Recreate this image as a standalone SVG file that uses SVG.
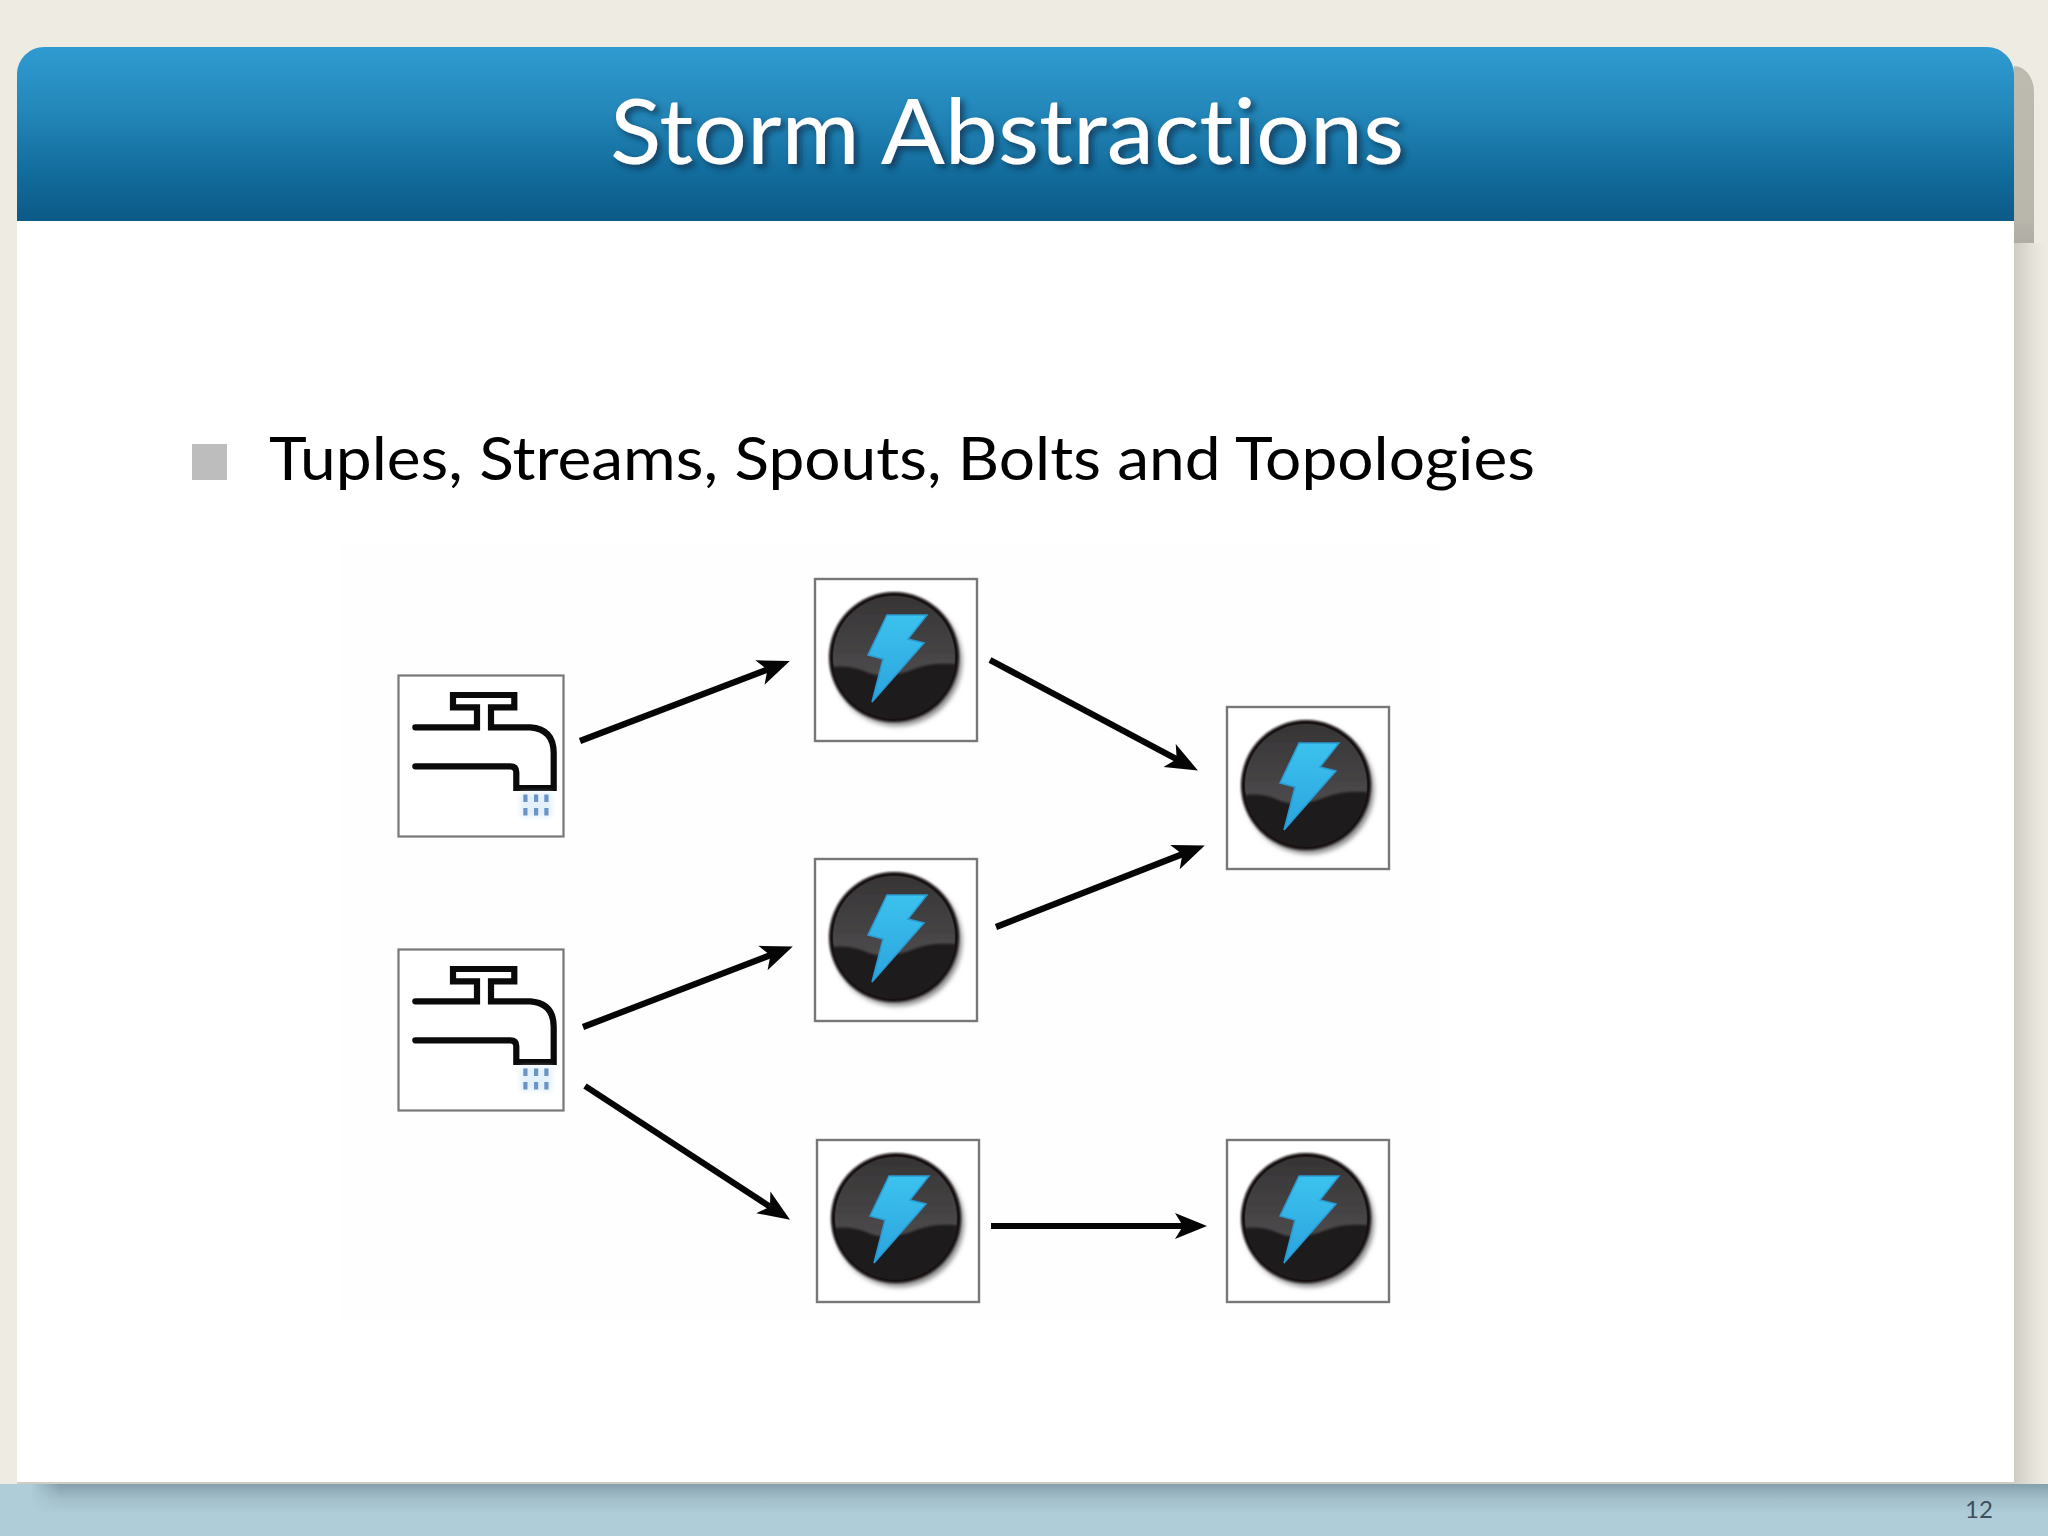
<svg xmlns="http://www.w3.org/2000/svg" width="2048" height="1536" viewBox="0 0 2048 1536">
<defs>
<style>text{font-family:Lato,'Open Sans',sans-serif;font-variant-ligatures:none}</style>
<linearGradient id="hdr" x1="0" y1="0" x2="0" y2="1"><stop offset="0" stop-color="#2f9bd1"/><stop offset="0.35" stop-color="#2488ba"/><stop offset="0.75" stop-color="#116a9a"/><stop offset="1" stop-color="#0c5a87"/></linearGradient>
<linearGradient id="rs" x1="0" y1="0" x2="1" y2="0"><stop offset="0" stop-color="#cfccc3"/><stop offset="0.6" stop-color="#e6e3da"/><stop offset="1" stop-color="#eeebe3"/></linearGradient>
<linearGradient id="band" x1="0" y1="0" x2="0" y2="1"><stop offset="0" stop-color="#84a0ac"/><stop offset="0.5" stop-color="#a2bfca"/><stop offset="1" stop-color="#aecdd8"/></linearGradient>
<linearGradient id="fadeL" x1="0" y1="0" x2="1" y2="0"><stop offset="0" stop-color="#aecdd8"/><stop offset="1" stop-color="#aecdd8" stop-opacity="0"/></linearGradient>
<linearGradient id="tab" x1="0" y1="0" x2="0" y2="1"><stop offset="0" stop-color="#bdbab0"/><stop offset="0.85" stop-color="#b9b6ac"/><stop offset="1" stop-color="#aeaca4"/></linearGradient>
<linearGradient id="boltg" x1="0" y1="0" x2="0" y2="1"><stop offset="0" stop-color="#3cc2ee"/><stop offset="1" stop-color="#2ba3de"/></linearGradient>
<linearGradient id="gloss" x1="0" y1="0" x2="0" y2="1"><stop offset="0" stop-color="#343233"/><stop offset="1" stop-color="#4c4a4b"/></linearGradient>
<filter id="soft" x="-20%" y="-20%" width="140%" height="140%"><feGaussianBlur stdDeviation="2.5"/></filter>
<filter id="slight" x="-5%" y="-5%" width="110%" height="110%"><feGaussianBlur stdDeviation="1"/></filter>
<filter id="ts" x="-5%" y="-20%" width="110%" height="140%"><feDropShadow dx="4" dy="4" stdDeviation="3" flood-color="#0a2f48" flood-opacity="0.75"/></filter>
<clipPath id="disc"><circle r="61"/></clipPath>
<marker id="arr" markerUnits="userSpaceOnUse" markerWidth="36" markerHeight="30" refX="14" refY="14" orient="auto"><path d="M0,1 L32,14 L0,27 L8,14 Z" fill="#050505"/></marker>
<g id="faucet">
<rect x="0.5" y="0.5" width="165" height="161" fill="#fff" stroke="#77777a" stroke-width="2.2"/>
<path d="M17.3,52.3H79V32.3H55V20H116.3V32.3H93V52.3H132.3Q155.7,54 155.7,78V113H118.3V97.3Q118.3,91.3 112.3,91.3H17.3" fill="none" stroke="#0a0a0a" stroke-width="6.2" stroke-linecap="round"/>
<rect x="122" y="118" width="32" height="24" fill="#e4f1fb" filter="url(#soft)"/>
<g fill="#6a94c4"><rect x="125.3" y="119.5" width="4.2" height="7.5"/><rect x="136" y="119.5" width="4.2" height="7.5"/><rect x="146.3" y="119.5" width="4.2" height="7.5"/><rect x="125.3" y="133" width="4.2" height="7.5"/><rect x="136" y="133" width="4.2" height="7.5"/><rect x="146.3" y="133" width="4.2" height="7.5"/></g>
</g>
<g id="bolt">
<rect x="-79" y="-78" width="162" height="162" fill="#fff" stroke="#77777a" stroke-width="2.4"/>
<circle cx="3" cy="4" r="65" fill="#8a8a8a" filter="url(#soft)"/>
<circle r="65" fill="#121011" filter="url(#slight)"/>
<circle r="62" fill="#1e1b1c"/>
<g clip-path="url(#disc)"><path d="M-70,-70H70V8Q40,4 20,12Q-10,24 -30,14Q-50,6 -70,12Z" fill="url(#gloss)" filter="url(#slight)"/></g>
<path d="M-7,-42L33,-42L14,-18L30,-14L-22,45L-11,2L-26,-2Z" fill="url(#boltg)" stroke="#2a9ad2" stroke-width="1.5"/>
</g>
</defs>
<rect id="bg" width="2048" height="1536" fill="#eeebe3"/>
<rect x="2014" y="243" width="34" height="1241" fill="url(#rs)"/>
<path d="M2014,66A20,26 0 0 1 2034,92V243H2014Z" fill="url(#tab)"/>
<rect x="17" y="74" width="1997" height="1408" fill="#fff"/>
<rect x="17" y="1482" width="1997" height="2" fill="#cfccc0"/>
<g id="footer">
<rect x="0" y="1484" width="2048" height="52" fill="#aecdd8"/>
<rect x="30" y="1484" width="2018" height="30" fill="url(#band)"/>
<rect x="30" y="1484" width="30" height="30" fill="url(#fadeL)"/>
<text x="1979" y="1518" text-anchor="middle" font-size="24" fill="#3f4e5e">12</text>
</g>
<g id="header">
<path d="M17,221V74A27,27 0 0 1 44,47H1987A27,27 0 0 1 2014,74V221Z" fill="url(#hdr)"/>
<text x="1007" y="164" text-anchor="middle" font-size="92" fill="#fff" filter="url(#ts)" textLength="794" lengthAdjust="spacingAndGlyphs">Storm Abstractions</text>
</g>
<g id="bullet-line">
<rect x="192" y="444" width="35" height="36" fill="#bdbdbd"/>
<text x="269" y="480" font-size="60" fill="#000" textLength="1266" lengthAdjust="spacingAndGlyphs">Tuples, Streams, Spouts, Bolts and Topologies</text>
</g>
<rect id="figure-bg" x="340" y="545" width="1100" height="777" fill="#fefefe"/>
<g id="connectors" fill="none" stroke="#050505" stroke-width="6.2" stroke-linecap="butt">
<line x1="580" y1="741" x2="773" y2="667.5" marker-end="url(#arr)"/>
<line x1="990" y1="660" x2="1182" y2="762" marker-end="url(#arr)"/>
<line x1="996" y1="927" x2="1188" y2="852" marker-end="url(#arr)"/>
<line x1="583" y1="1027" x2="776" y2="953" marker-end="url(#arr)"/>
<line x1="585" y1="1086" x2="775" y2="1210" marker-end="url(#arr)"/>
<line x1="991" y1="1226" x2="1189" y2="1226" marker-end="url(#arr)"/>
</g>
<g id="spout-1"><use href="#faucet" x="398" y="675"/></g>
<g id="spout-2"><use href="#faucet" x="398" y="949"/></g>
<g id="bolt-1"><use href="#bolt" x="894" y="657"/></g>
<g id="bolt-2"><use href="#bolt" x="894" y="937"/></g>
<g id="bolt-3"><use href="#bolt" x="896" y="1218"/></g>
<g id="bolt-4"><use href="#bolt" x="1306" y="785"/></g>
<g id="bolt-5"><use href="#bolt" x="1306" y="1218"/></g>
</svg>
